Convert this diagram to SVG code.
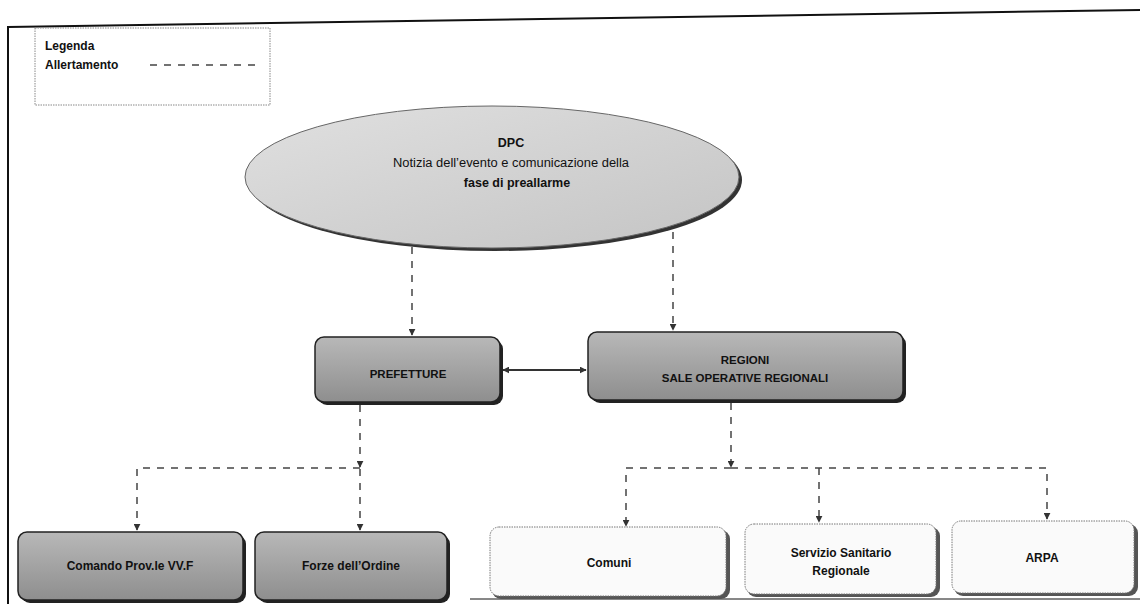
<svg xmlns="http://www.w3.org/2000/svg" width="1140" height="604" viewBox="0 0 1140 604">
<style>
.t{font-family:"Liberation Sans",Arial,sans-serif;fill:#111}
.b{font-weight:bold}
.dark{fill:url(#gd);stroke:#222;stroke-width:1.5}
.light{fill:#fafafa;stroke:#777;stroke-width:1;stroke-dasharray:1.5 1}
.shd{fill:#222}
.shl{fill:#555}
.dash{fill:none;stroke:#444;stroke-width:1.5;stroke-dasharray:7 7}
</style>
<defs>
<linearGradient id="gd" x1="0" y1="0" x2="0" y2="1"><stop offset="0" stop-color="#b8b8b8"/><stop offset="1" stop-color="#8e8e8e"/></linearGradient>
<linearGradient id="ge" x1="0" y1="0" x2="1" y2="1"><stop offset="0" stop-color="#e0e0e0"/><stop offset="1" stop-color="#c4c4c4"/></linearGradient>
<marker id="ah" viewBox="0 0 10 10" refX="9" refY="5" markerWidth="7" markerHeight="7" orient="auto-start-reverse" markerUnits="userSpaceOnUse"><path d="M0,0 L10,5 L0,10 z" fill="#333"/></marker>
</defs>
<rect width="1140" height="604" fill="#fff"/>
<g id="frame" stroke="#111" fill="none">
<line x1="8" y1="27" x2="1140" y2="10" stroke-width="2"/>
<line x1="8" y1="26" x2="8" y2="604" stroke-width="2"/>
<line x1="470" y1="599" x2="1140" y2="599" stroke-width="1"/>
</g>
<g id="legend">
<rect x="35" y="28" width="235" height="77" fill="#fff" stroke="#888" stroke-width="1" stroke-dasharray="1.5 1"/>
<text class="t b" x="45" y="50" font-size="12">Legenda</text>
<text class="t b" x="45" y="69" font-size="12">Allertamento</text>
<line class="dash" x1="150" y1="65" x2="256" y2="65" stroke-dasharray="6 6"/>
</g>
<g id="dpc">
<ellipse cx="495" cy="180" rx="247" ry="71" fill="#333"/>
<ellipse cx="492" cy="177" rx="247" ry="71" fill="url(#ge)" stroke="#666" stroke-width="1"/>
<text class="t b" x="511" y="147" font-size="12.5" text-anchor="middle">DPC</text>
<text class="t" x="511" y="167" font-size="12.5" text-anchor="middle" textLength="236" lengthAdjust="spacingAndGlyphs">Notizia dell’evento e comunicazione della</text>
<text class="t b" x="517" y="187" font-size="12.5" text-anchor="middle">fase di preallarme</text>
</g>
<g id="prefetture">
<rect class="shd" x="318" y="340" width="185" height="65" rx="9"/>
<rect class="dark" x="315" y="337" width="185" height="65" rx="9"/>
<text class="t b" x="408" y="378" font-size="11.5" text-anchor="middle">PREFETTURE</text>
</g>
<g id="regioni">
<rect class="shd" x="591" y="335" width="315" height="68" rx="9"/>
<rect class="dark" x="588" y="332" width="315" height="68" rx="9"/>
<text class="t b" x="745" y="364" font-size="11.5" text-anchor="middle">REGIONI</text>
<text class="t b" x="745" y="382" font-size="11.5" text-anchor="middle">SALE OPERATIVE REGIONALI</text>
</g>
<g id="comando">
<rect class="shd" x="21" y="535" width="225" height="68" rx="9"/>
<rect class="dark" x="18" y="532" width="225" height="68" rx="9"/>
<text class="t b" x="130" y="570" font-size="12" text-anchor="middle">Comando Prov.le VV.F</text>
</g>
<g id="forze">
<rect class="shd" x="258" y="535" width="192" height="68" rx="9"/>
<rect class="dark" x="255" y="532" width="192" height="68" rx="9"/>
<text class="t b" x="351" y="570" font-size="12" text-anchor="middle">Forze dell’Ordine</text>
</g>
<g id="comuni">
<rect class="shl" x="492" y="530" width="238" height="69" rx="9"/>
<rect class="light" x="490" y="527" width="236" height="69" rx="9"/>
<text class="t b" x="609" y="567" font-size="12" text-anchor="middle">Comuni</text>
</g>
<g id="servizio">
<rect class="shl" x="747" y="527" width="193" height="70" rx="9"/>
<rect class="light" x="745" y="524" width="191" height="70" rx="9"/>
<text class="t b" x="841" y="557" font-size="12" text-anchor="middle">Servizio Sanitario</text>
<text class="t b" x="841" y="575" font-size="12" text-anchor="middle">Regionale</text>
</g>
<g id="arpa">
<rect class="shl" x="954" y="524" width="184" height="72" rx="9"/>
<rect class="light" x="952" y="521" width="182" height="72" rx="9"/>
<text class="t b" x="1042" y="562" font-size="12" text-anchor="middle">ARPA</text>
</g>
<g id="connectors">
<line class="dash" x1="412" y1="247" x2="412" y2="335" marker-end="url(#ah)"/>
<line class="dash" x1="673" y1="232" x2="673" y2="330" marker-end="url(#ah)"/>
<line x1="503" y1="370" x2="586" y2="370" stroke="#333" stroke-width="1.8" marker-start="url(#ah)" marker-end="url(#ah)"/>
<line class="dash" x1="360" y1="405" x2="360" y2="467" marker-end="url(#ah)"/>
<polyline class="dash" points="360,468 137,468 137,530" marker-end="url(#ah)"/>
<line class="dash" x1="360" y1="469" x2="360" y2="530" marker-end="url(#ah)"/>
<line class="dash" x1="731" y1="403" x2="731" y2="467" marker-end="url(#ah)"/>
<polyline class="dash" points="731,468 626,468 626,526" marker-end="url(#ah)"/>
<polyline class="dash" points="731,468 1047,468 1047,519" marker-end="url(#ah)"/>
<line class="dash" x1="819" y1="468" x2="819" y2="522" marker-end="url(#ah)"/>
</g>
</svg>
